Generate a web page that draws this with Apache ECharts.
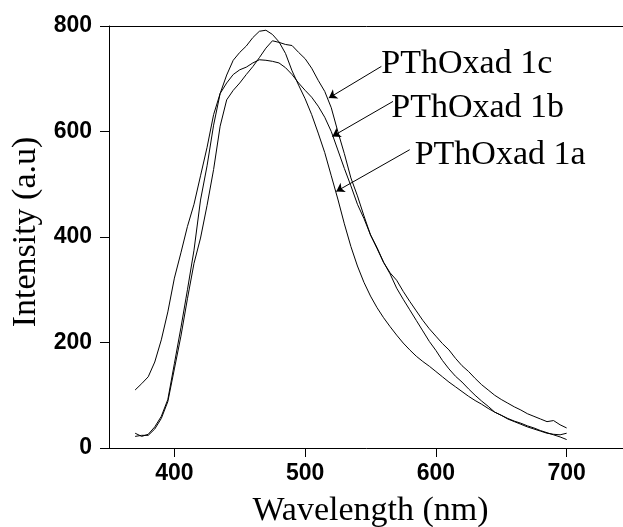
<!DOCTYPE html>
<html>
<head>
<meta charset="utf-8">
<script src="https://cdn.jsdelivr.net/npm/echarts@6/dist/echarts.min.js"></script>
<style>
html,body{margin:0;padding:0;background:#fff;}
#chart{width:623px;height:527px;}
</style>
</head>
<body>
<div id="chart"></div>
<script>
// Wavelength grid (nm)
var wavelengths = [370,375,380,385,390,395,400,405,410,415,420,425,430,435,440,445,450,455,460,465,470,475,480,485,490,495,500,505,510,515,520,525,530,535,540,545,550,555,560,565,570,575,580,585,590,595,600,605,610,615,620,625,630,635,640,645,650,655,660,665,670,675,680,685,690,695,700];

// Intensities (a.u.)
var pthoxad1a = [110,122,135,163,205,258,322,370,420,462,516,570,632,672,707,735,750,762,778,790,792,784,770,748,715,688,662,632,597,560,516,472,425,382,345,314,288,266,247,230,214,199,186,174,164,155,145,135,125,116,107,98,90,83,75,68,62,56,51,47,42,38,33,29,25,21,16];
var pthoxad1b = [28,22,26,40,60,92,160,228,300,375,470,535,612,672,692,708,717,722,730,736,735,733,730,721,708,692,678,665,648,627,600,565,530,497,462,435,404,378,352,330,303,282,262,242,222,202,185,166,150,136,125,112,100,89,79,68,62,55,50,45,40,36,32,28,26,25,28];
var pthoxad1c = [22,24,24,36,56,88,150,212,283,350,398,460,528,610,660,678,692,708,723,740,758,772,769,765,763,750,738,720,697,676,645,600,558,512,478,440,404,380,352,332,318,297,278,260,242,226,212,198,186,170,156,145,132,120,110,100,92,85,78,72,65,60,55,50,52,44,38];

// Axis ticks
var xTicks = [400,500,600,700];
var yTicks = [0,200,400,600,800];

// Annotations (data coordinates): label anchor, arrow start, arrow tip
var seriesNames = ['PThOxad 1a','PThOxad 1b','PThOxad 1c'];
var labelAnchor = [[583.8,555],[565.9,643.5],[558.3,727.5]];
var arrowFrom = [[580,565.5],[567.2,657],[558.3,723.4]];
var arrowTo = [[523.8,486.4],[520.8,590.7],[518.1,663.5]];

var seriesData = [pthoxad1a, pthoxad1b, pthoxad1c];

function pairs(ys){
  return wavelengths.map(function(x,i){return [x, ys[i]];});
}

var series = seriesData.map(function(ys, k){
  return {
    name: seriesNames[k],
    type: 'line',
    data: pairs(ys),
    showSymbol: false,
    symbol: 'none',
    smooth: false,
    lineStyle: {color:'#000', width:1},
    silent: true,
    z: 3,
    markLine: {
      silent: true,
      symbol: ['none','arrow'],
      symbolSize: 8,
      lineStyle: {color:'#000', width:1, type:'solid'},
      label: {show:false},
      data: [[{coord: arrowFrom[k]}, {coord: arrowTo[k]}]]
    },
    markPoint: {
      silent: true,
      symbol: 'circle',
      symbolSize: 0,
      label: {
        show: true,
        position: 'right',
        distance: 0,
        formatter: seriesNames[k],
        fontFamily: 'Liberation Serif',
        fontSize: 34,
        color: '#000'
      },
      data: [{coord: labelAnchor[k]}]
    }
  };
});

var chart = echarts.init(document.getElementById('chart'), null, {renderer:'canvas'});
chart.setOption({
  animation: false,
  backgroundColor: '#fff',
  grid: {left:109, top:26, right:-9, bottom:79, containLabel:false, outerBoundsMode:'none'},
  xAxis: [{
    type: 'value',
    min: 350, max: 750,
    position: 'bottom',
    name: 'Wavelength (nm)',
    nameLocation: 'middle',
    nameGap: 46,
    nameTextStyle: {fontFamily:'Liberation Serif', fontSize:34, color:'#000'},
    axisLine: {show:true, onZero:false, lineStyle:{color:'#000', width:1}},
    axisTick: {show:true, length:9, customValues: xTicks, lineStyle:{color:'#000', width:1}},
    axisLabel: {show:true, customValues: xTicks, margin:14, fontFamily:'Liberation Sans', fontWeight:'bold', fontSize:23, color:'#000'},
    splitLine: {show:false}
  },{
    type: 'value',
    min: 350, max: 750,
    position: 'top',
    axisLine: {show:true, onZero:false, lineStyle:{color:'#000', width:1}},
    axisTick: {show:false},
    axisLabel: {show:false},
    splitLine: {show:false}
  }],
  yAxis: {
    type: 'value',
    min: 0, max: 800, interval: 200,
    name: 'Intensity (a.u)',
    nameLocation: 'middle',
    nameGap: 57,
    nameTextStyle: {fontFamily:'Liberation Serif', fontSize:34, color:'#000', padding:[0,0,0,10]},
    axisLine: {show:true, onZero:false, lineStyle:{color:'#000', width:1}},
    axisTick: {show:true, length:9, customValues: yTicks, lineStyle:{color:'#000', width:1}},
    axisLabel: {show:true, customValues: yTicks, margin:17, fontFamily:'Liberation Sans', fontWeight:'bold', fontSize:23, color:'#000'},
    splitLine: {show:false}
  },
  series: series
});
</script>
</body>
</html>
